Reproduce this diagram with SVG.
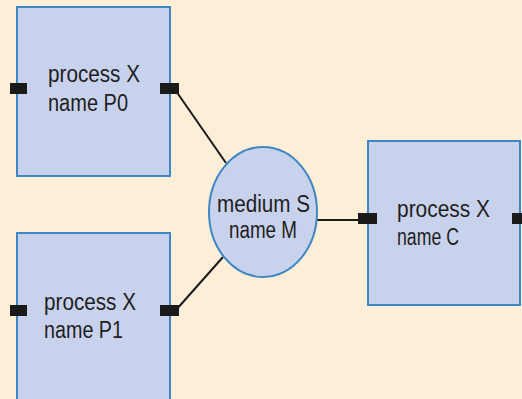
<svg xmlns="http://www.w3.org/2000/svg" width="522" height="399" viewBox="0 0 522 399">
  <style>
    .box { fill: #c9d2ec; stroke: #3f86c4; stroke-width: 2; }
    .port { fill: #1a1a1a; }
    .lbl { font-family: "Liberation Sans", Arial, sans-serif; font-size: 23px; fill: #1e1e1e; }
    .wire { stroke: #1a1a1a; stroke-width: 2; fill: none; }
  </style>
  <rect x="0" y="0" width="522" height="399" fill="#fdefd7"/>

  <g id="connectors">
    <line class="wire" x1="176" y1="91" x2="226" y2="163"/>
    <line class="wire" x1="176" y1="310" x2="223" y2="257"/>
    <line class="wire" x1="317" y1="220" x2="362" y2="220"/>
  </g>

  <g id="P0">
    <rect class="box" x="17" y="7" width="153" height="169"/>
    <rect class="port" x="10" y="83" width="17" height="11"/>
    <rect class="port" x="160" y="83" width="19" height="11"/>
    <text class="lbl" x="48" y="82" textLength="92" lengthAdjust="spacingAndGlyphs">process X</text>
    <text class="lbl" x="48" y="111" textLength="80" lengthAdjust="spacingAndGlyphs">name P0</text>
  </g>

  <g id="P1">
    <rect class="box" x="17" y="233" width="153" height="175"/>
    <rect class="port" x="10" y="305" width="17" height="11"/>
    <rect class="port" x="160" y="305" width="19" height="11"/>
    <text class="lbl" x="44" y="310" textLength="92" lengthAdjust="spacingAndGlyphs">process X</text>
    <text class="lbl" x="44" y="338" textLength="79" lengthAdjust="spacingAndGlyphs">name P1</text>
  </g>

  <g id="M">
    <ellipse class="box" cx="263" cy="212" rx="54" ry="65"/>
    <text class="lbl" x="217" y="212" textLength="93" lengthAdjust="spacingAndGlyphs">medium S</text>
    <text class="lbl" x="229" y="238" textLength="68" lengthAdjust="spacingAndGlyphs">name M</text>
  </g>

  <g id="C">
    <rect class="box" x="368" y="141" width="152" height="164"/>
    <rect class="port" x="358" y="213" width="19" height="11"/>
    <rect class="port" x="512" y="213" width="12" height="11"/>
    <text class="lbl" x="397" y="217" textLength="93" lengthAdjust="spacingAndGlyphs">process X</text>
    <text class="lbl" x="397" y="245" textLength="62" lengthAdjust="spacingAndGlyphs">name C</text>
  </g>
</svg>
